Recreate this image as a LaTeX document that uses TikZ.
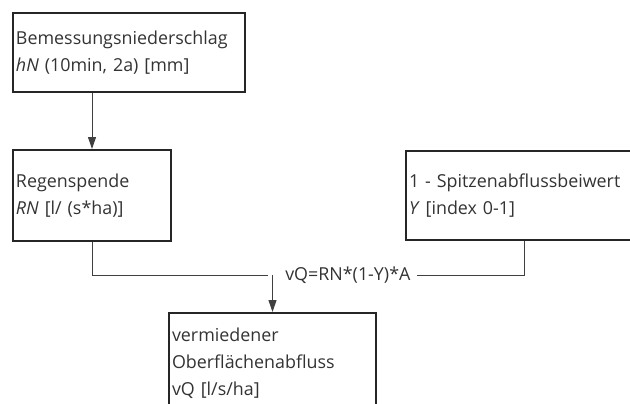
\documentclass[tikz,border=0pt]{standalone}
\usepackage{fontspec}
\setmainfont{Open Sans}
\usetikzlibrary{arrows.meta}

\begin{document}
\begin{tikzpicture}[x=0.75pt, y=-0.75pt,
	box/.style={draw=black!85, line width=1.5pt, rectangle, anchor=north west,
		inner xsep=2.25pt, align=left, text=black!80,
		font=\fontsize{13.4}{20.25}\selectfont},
	link/.style={draw=black!75, line width=0.75pt},
	>={Triangle[length=9pt, width=6pt]}]
	\clip (0,0) rectangle (630,403);
	\node[box, minimum width=174pt, minimum height=59.25pt, text width=169.5pt, name=niederschlag] at (12,12)
		{Bemessungsniederschlag\\\textit{hN} (10min, 2a) [mm]};
	\node[box, minimum width=118.5pt, minimum height=68.25pt, text width=114pt, name=regen] at (12,149)
		{Regenspende\\\textit{RN} [l/ (s*ha)]};
	\node[box, minimum width=177pt, minimum height=66.75pt, text width=172.5pt, name=spitze] at (405,150)
		{1 - Spitzenabflussbeiwert\\\textit{Y} [index 0-1]};
	\node[box, minimum width=155.25pt, minimum height=75.75pt, text width=150.75pt, name=abfluss] at (168,312)
		{vermiedener\\Oberflächenabfluss\\vQ [l/s/ha]};
	\node[text=black!80, font=\fontsize{13.4}{20.25}\selectfont, inner ysep=0pt, minimum width=111.75pt, name=formel] at (342.5,275)
		{\hspace{8pt}vQ=RN*(1-Y)*A};
	\coordinate (knoten) at (abfluss.north |- formel.west);
	\draw[link, ->] (regen.north |- niederschlag.south) -- (regen.north);
	\draw[link] (regen.south) |- (formel.west);
	\draw[link] (formel.east) -| (spitze.south);
	\draw[link, ->] (knoten) -- (abfluss.north);
\end{tikzpicture}
\end{document}
